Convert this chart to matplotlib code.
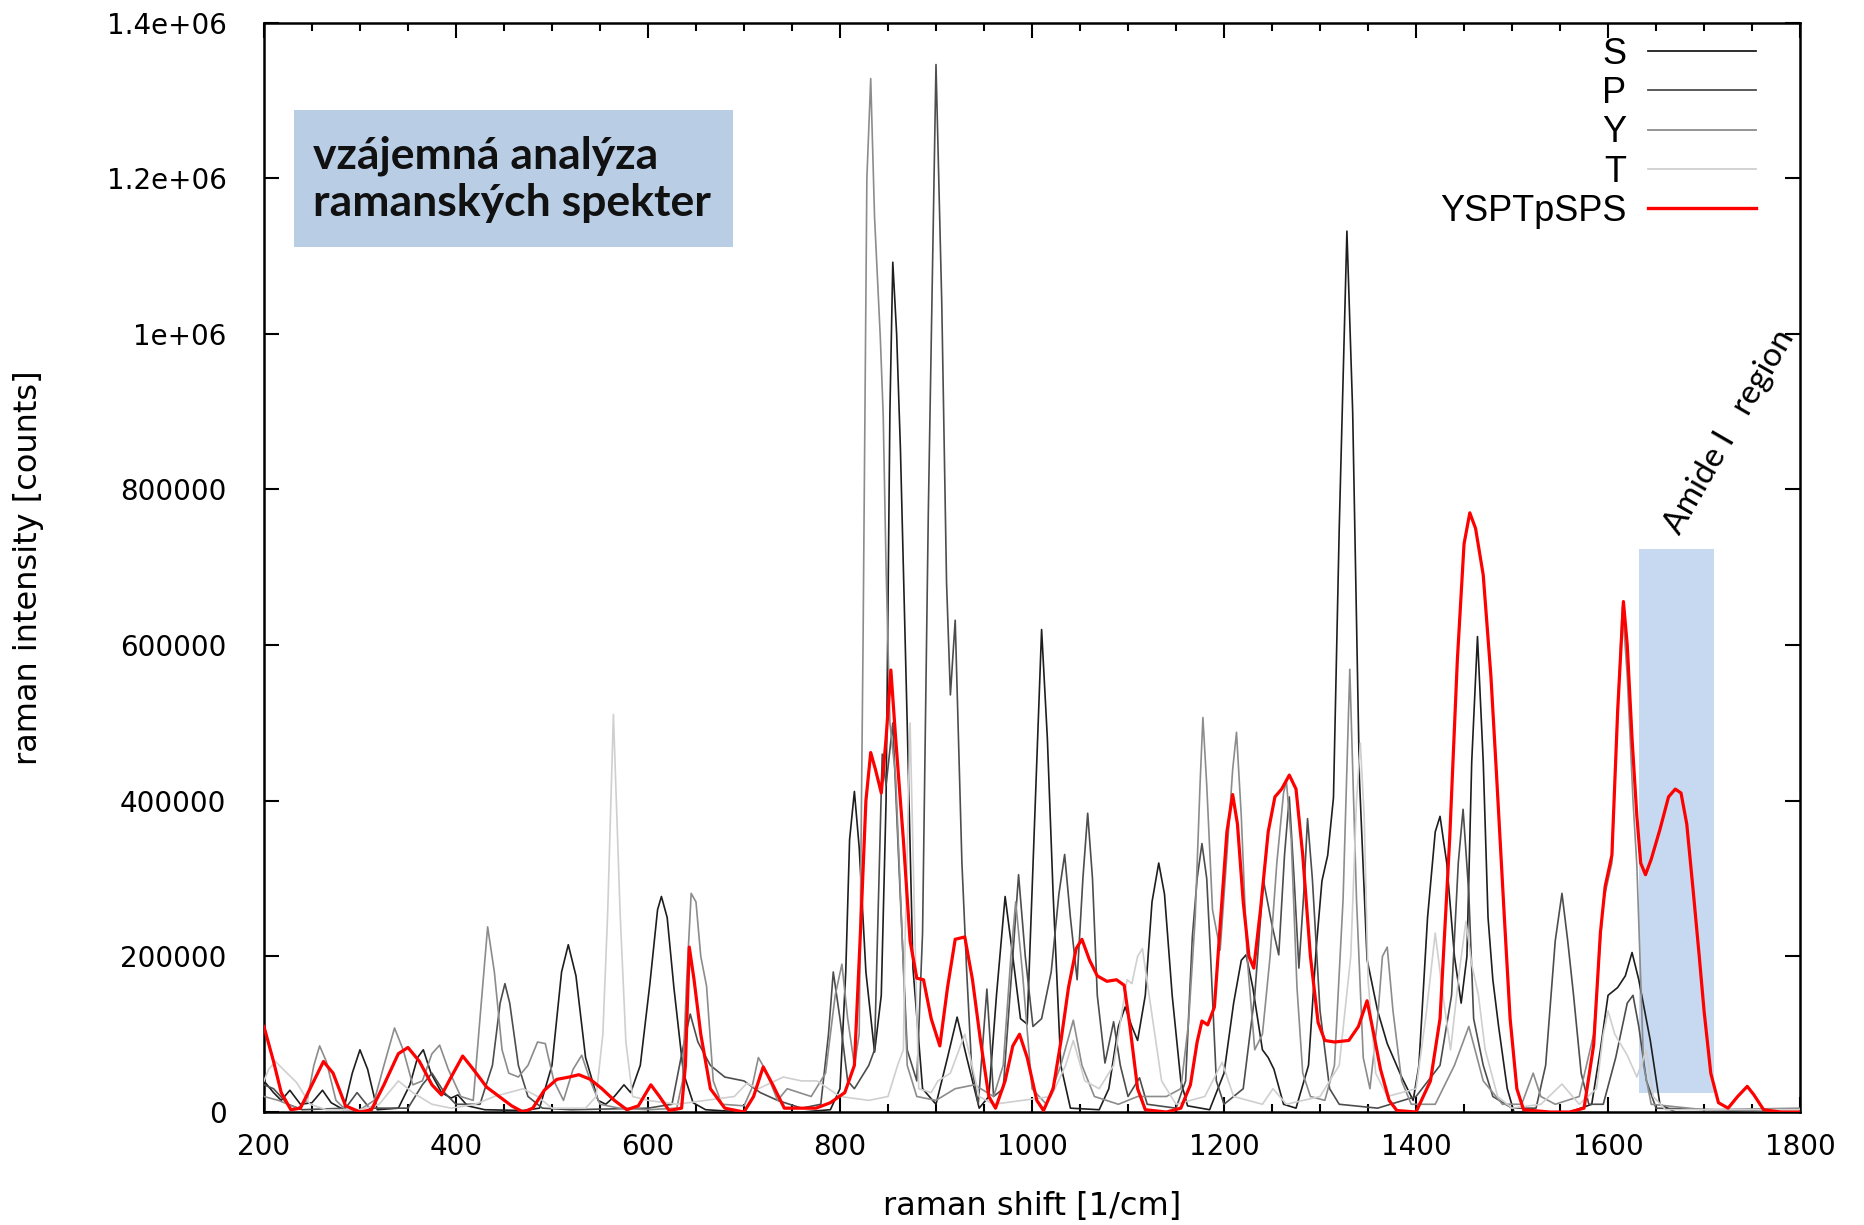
import matplotlib
matplotlib.use("Agg")
import matplotlib.pyplot as plt
from matplotlib.patches import Rectangle
from matplotlib.ticker import MultipleLocator

# spectra as (shift, counts) points
s_x = [200, 210, 218, 227, 238, 250, 261, 270, 283, 292, 300, 308, 318, 340, 352, 360, 366, 374, 385, 395, 402, 412,
       430, 470, 487, 500, 510, 517, 525, 535, 548, 556, 565, 575, 582, 592, 602, 610, 614, 620, 627, 637, 647, 660,
       700, 760, 790, 800, 806, 810, 815, 820, 827, 836, 843, 848, 852, 855, 859, 863, 870, 876, 886, 900, 912, 922,
       932, 945, 955, 963, 972, 980, 988, 995, 1002, 1010, 1016, 1022, 1030, 1040, 1070, 1080, 1090, 1097, 1104,
       1110, 1118, 1125, 1132, 1138, 1146, 1155, 1162, 1185, 1200, 1210, 1218, 1223, 1230, 1240, 1246, 1252, 1262,
       1275, 1288, 1296, 1302, 1308, 1314, 1320, 1328, 1334, 1341, 1349, 1360, 1370, 1385, 1397, 1403, 1412, 1420,
       1425, 1432, 1440, 1447, 1453, 1458, 1464, 1470, 1475, 1480, 1486, 1495, 1502, 1560, 1583, 1592, 1600, 1610,
       1618, 1625, 1632, 1644, 1654, 1670, 1800]
s_y = [40000, 25000, 15000, 28000, 10000, 12000, 28000, 12000, 3000, 50000, 80000, 55000, 3000, 5000, 35000, 70000,
       80000, 50000, 25000, 18000, 22000, 8000, 3000, 2000, 5000, 60000, 180000, 215000, 175000, 70000, 15000, 10000,
       20000, 35000, 25000, 60000, 165000, 260000, 277000, 250000, 160000, 50000, 12000, 3000, 0, 0, 3000, 30000,
       180000, 350000, 412000, 340000, 180000, 77000, 150000, 400000, 900000, 1092000, 1000000, 850000, 500000,
       185000, 30000, 10000, 70000, 122000, 70000, 5000, 20000, 150000, 277000, 200000, 120000, 113000, 350000,
       620000, 480000, 280000, 60000, 5000, 3000, 30000, 110000, 135000, 110000, 92000, 150000, 270000, 320000,
       280000, 150000, 40000, 8000, 3000, 50000, 140000, 195000, 202000, 160000, 80000, 70000, 55000, 10000, 5000,
       60000, 210000, 297000, 330000, 404000, 750000, 1132000, 900000, 430000, 196000, 130000, 88000, 45000, 15000,
       60000, 250000, 360000, 380000, 320000, 200000, 140000, 200000, 450000, 611000, 450000, 250000, 170000,
       110000, 30000, 0, 0, 10000, 80000, 150000, 160000, 175000, 205000, 170000, 92000, 10000, 0, 0]

p_x = [200, 210, 225, 240, 285, 297, 310, 350, 365, 375, 388, 400, 425, 438, 446, 451, 456, 465, 475, 490, 520, 600,
       625, 636, 644, 652, 665, 680, 700, 717, 735, 760, 780, 788, 793, 800, 808, 815, 830, 836, 844, 848, 855, 862,
       870, 880, 886, 892, 900, 906, 911, 915, 920, 927, 932, 937, 944, 953, 960, 970, 980, 986, 993, 1001, 1010,
       1020, 1028, 1034, 1040, 1047, 1053, 1058, 1063, 1068, 1076, 1085, 1092, 1100, 1112, 1120, 1150, 1160, 1167,
       1172, 1177, 1182, 1186, 1192, 1200, 1220, 1232, 1241, 1250, 1257, 1263, 1268, 1273, 1278, 1283, 1287, 1292,
       1300, 1310, 1320, 1360, 1400, 1425, 1437, 1444, 1449, 1455, 1460, 1470, 1480, 1500, 1525, 1535, 1545, 1552,
       1558, 1564, 1572, 1580, 1595, 1608, 1620, 1626, 1632, 1640, 1650, 1800]
p_y = [35000, 30000, 10000, 3000, 5000, 25000, 5000, 5000, 35000, 50000, 25000, 10000, 10000, 60000, 140000, 165000,
       140000, 60000, 20000, 5000, 3000, 5000, 10000, 80000, 126000, 90000, 60000, 45000, 40000, 25000, 15000, 5000,
       10000, 100000, 180000, 120000, 40000, 30000, 60000, 80000, 460000, 420000, 500000, 300000, 80000, 40000,
       230000, 770000, 1346000, 1040000, 680000, 536000, 632000, 320000, 180000, 60000, 10000, 158000, 20000, 30000,
       200000, 305000, 200000, 110000, 120000, 180000, 280000, 331000, 250000, 170000, 300000, 384000, 300000,
       150000, 63000, 116000, 60000, 20000, 44000, 10000, 5000, 40000, 225000, 300000, 345000, 300000, 200000, 40000,
       10000, 30000, 150000, 298000, 240000, 202000, 330000, 405000, 300000, 185000, 280000, 377000, 300000, 130000,
       30000, 10000, 5000, 20000, 60000, 150000, 320000, 389000, 280000, 120000, 60000, 20000, 5000, 5000, 60000,
       220000, 281000, 220000, 151000, 50000, 10000, 10000, 70000, 140000, 150000, 110000, 40000, 5000, 0]

y_x = [200, 215, 235, 245, 252, 258, 265, 275, 285, 300, 315, 325, 336, 345, 355, 365, 375, 383, 392, 405, 418, 425,
       433, 440, 448, 455, 465, 475, 485, 493, 502, 512, 522, 531, 540, 550, 570, 600, 630, 636, 640, 645, 650, 655,
       661, 668, 677, 700, 708, 715, 722, 735, 745, 770, 785, 795, 802, 808, 815, 820, 824, 828, 832, 836, 842, 845,
       848, 852, 858, 864, 870, 880, 900, 920, 940, 960, 970, 978, 983, 990, 1000, 1015, 1030, 1043, 1052, 1065,
       1090, 1110, 1140, 1155, 1163, 1170, 1175, 1178, 1182, 1188, 1196, 1203, 1209, 1213, 1218, 1224, 1232, 1240,
       1248, 1255, 1262, 1265, 1270, 1276, 1282, 1290, 1305, 1315, 1324, 1331, 1338, 1345, 1352, 1360, 1365, 1370,
       1376, 1385, 1395, 1420, 1440, 1455, 1470, 1490, 1510, 1522, 1530, 1545, 1570, 1585, 1595, 1604, 1610, 1615,
       1620, 1626, 1630, 1637, 1645, 1700, 1800]
y_y = [20000, 15000, 5000, 15000, 60000, 85000, 65000, 15000, 3000, 3000, 15000, 60000, 108000, 80000, 35000, 40000,
       75000, 86000, 55000, 20000, 15000, 120000, 238000, 180000, 80000, 50000, 45000, 60000, 90000, 88000, 40000,
       15000, 55000, 73000, 40000, 10000, 5000, 3000, 5000, 40000, 162000, 281000, 270000, 200000, 162000, 40000,
       10000, 8000, 30000, 70000, 55000, 15000, 30000, 20000, 50000, 150000, 190000, 120000, 60000, 100000, 600000,
       1200000, 1328000, 1150000, 995000, 896000, 700000, 500000, 430000, 250000, 60000, 20000, 15000, 30000, 35000,
       20000, 60000, 200000, 270000, 180000, 30000, 10000, 60000, 118000, 60000, 20000, 10000, 20000, 20000, 30000,
       114000, 250000, 420000, 507000, 420000, 260000, 208000, 330000, 440000, 488000, 380000, 200000, 80000,
       100000, 200000, 320000, 410000, 425000, 350000, 160000, 50000, 20000, 15000, 60000, 273000, 569000, 273000,
       70000, 30000, 120000, 200000, 212000, 130000, 40000, 10000, 10000, 60000, 110000, 40000, 10000, 10000, 50000,
       20000, 10000, 20000, 100000, 270000, 320000, 520000, 650000, 560000, 400000, 317000, 60000, 10000, 3000, 5000]

t_x = [200, 205, 212, 220, 234, 248, 265, 300, 320, 340, 355, 375, 395, 420, 440, 470, 485, 500, 535, 546, 553, 558,
       564, 571, 577, 584, 600, 630, 660, 690, 703, 715, 741, 760, 776, 800, 830, 850, 860, 866, 868, 873, 878, 882,
       895, 902, 915, 930, 945, 960, 990, 1020, 1035, 1043, 1055, 1070, 1085, 1099, 1104, 1110, 1115, 1122, 1135,
       1150, 1180, 1198, 1210, 1240, 1251, 1265, 1300, 1320, 1332, 1338, 1342, 1346, 1350, 1358, 1370, 1400, 1410,
       1420, 1428, 1436, 1445, 1452, 1458, 1465, 1472, 1485, 1500, 1530, 1552, 1570, 1588, 1595, 1600, 1607, 1620,
       1630, 1640, 1647, 1660, 1800]
t_y = [40000, 55000, 65000, 55000, 38000, 10000, 3000, 3000, 10000, 40000, 25000, 10000, 5000, 10000, 20000, 30000,
       20000, 5000, 5000, 20000, 100000, 255000, 511000, 255000, 90000, 20000, 15000, 10000, 15000, 20000, 37000,
       30000, 45000, 40000, 40000, 20000, 15000, 20000, 60000, 80000, 230000, 500000, 230000, 30000, 25000, 40000,
       50000, 100000, 20000, 10000, 15000, 20000, 60000, 92000, 40000, 30000, 60000, 170000, 165000, 200000, 210000,
       150000, 40000, 10000, 20000, 64000, 20000, 10000, 30000, 10000, 20000, 60000, 200000, 400000, 474000, 380000,
       170000, 50000, 20000, 30000, 120000, 230000, 150000, 80000, 180000, 245000, 190000, 150000, 80000, 20000,
       5000, 10000, 36000, 10000, 30000, 100000, 130000, 100000, 73000, 45000, 80000, 20000, 3000, 3000]

r_x = [200, 210, 218, 228, 238, 250, 262, 272, 285, 300, 312, 325, 340, 350, 362, 375, 385, 395, 407, 418, 432, 445,
       458, 470, 480, 492, 505, 518, 528, 540, 552, 565, 578, 590, 603, 612, 622, 635, 639, 643, 648, 655, 665, 680,
       700, 710, 720, 730, 742, 760, 775, 790, 805, 815, 822, 827, 832, 837, 843, 848, 853, 858, 866, 873, 880, 887,
       895, 904, 912, 920, 930, 938, 946, 955, 962, 972, 980, 987, 995, 1005, 1012, 1022, 1030, 1038, 1046, 1052,
       1060, 1068, 1078, 1088, 1096, 1102, 1110, 1118, 1140, 1155, 1165, 1172, 1177, 1183, 1190, 1196, 1203, 1209,
       1214, 1220, 1226, 1231, 1238, 1246, 1253, 1260, 1268, 1275, 1282, 1290, 1298, 1305, 1315, 1330, 1340, 1349,
       1356, 1363, 1372, 1380, 1400, 1415, 1425, 1435, 1443, 1450, 1456, 1462, 1470, 1478, 1484, 1492, 1498, 1505,
       1512, 1540, 1560, 1575, 1585, 1592, 1597, 1604, 1610, 1616, 1620, 1625, 1630, 1634, 1639, 1645, 1654, 1663,
       1670, 1676, 1682, 1689, 1695, 1700, 1707, 1715, 1725, 1735, 1745, 1752, 1762, 1780, 1800]
r_y = [110000, 65000, 25000, 3000, 5000, 35000, 65000, 50000, 8000, 0, 3000, 35000, 75000, 83000, 65000, 35000,
       22000, 45000, 72000, 55000, 32000, 20000, 8000, 0, 5000, 28000, 42000, 45000, 48000, 42000, 30000, 15000,
       3000, 8000, 35000, 20000, 2000, 5000, 60000, 212000, 170000, 100000, 30000, 5000, 0, 20000, 58000, 35000,
       5000, 5000, 5000, 12000, 25000, 60000, 250000, 400000, 462000, 440000, 410000, 480000, 568000, 480000,
       350000, 220000, 172000, 170000, 120000, 85000, 160000, 222000, 225000, 170000, 95000, 20000, 5000, 40000,
       85000, 100000, 70000, 15000, 2000, 30000, 90000, 160000, 210000, 222000, 195000, 175000, 168000, 170000,
       163000, 110000, 30000, 3000, 0, 5000, 35000, 90000, 117000, 112000, 135000, 240000, 360000, 408000, 370000,
       270000, 200000, 185000, 260000, 360000, 405000, 415000, 433000, 415000, 330000, 200000, 115000, 92000, 90000,
       92000, 110000, 143000, 100000, 55000, 15000, 2000, 0, 40000, 120000, 350000, 580000, 730000, 770000, 750000,
       690000, 560000, 430000, 250000, 120000, 30000, 3000, 0, 0, 5000, 86000, 230000, 290000, 330000, 515000,
       656000, 600000, 480000, 380000, 320000, 305000, 325000, 363000, 405000, 415000, 410000, 370000, 280000,
       200000, 130000, 50000, 12000, 5000, 20000, 33000, 22000, 3000, 0, 0]

series = [
    ("S", s_x, s_y, "#1e1e1e", 1.2),
    ("P", p_x, p_y, "#4d4d4d", 1.2),
    ("Y", y_x, y_y, "#8c8c8c", 1.2),
    ("T", t_x, t_y, "#cfcfcf", 1.2),
    ("YSPTpSPS", r_x, r_y, "#ff0000", 2.3),
]

fig = plt.figure(figsize=(18.64, 12.25), dpi=100)
ax = fig.add_axes([0.1416, 0.0922, 0.8241, 0.8894])

for name, xs, ys, col, lw in series:
    ax.plot(xs, ys, color=col, lw=lw, label=name, zorder=3)

# amide I band
ax.add_patch(Rectangle((1632, 24000), 78, 699000, facecolor="#c6d9f0",
                       edgecolor="none", zorder=2))
ax.text(1680, 736000, "Amide I   region", rotation=60, rotation_mode="anchor",
        ha="left", va="bottom", fontsize=24, family=["Lato", "DejaVu Sans"])

# title box
ax.add_patch(Rectangle((231, 1111000), 458, 176000, facecolor="#b9cde5",
                       edgecolor="none", zorder=2))
ax.text(251, 1199000, "vzájemná analýza\nramanských spekter", fontsize=32,
        fontweight="bold", family=["Lato", "DejaVu Sans"], color="#111111",
        va="center", ha="left", linespacing=1.2, zorder=4)

ax.set_xlim(200, 1800)
ax.set_ylim(0, 1400000)
ax.xaxis.set_major_locator(MultipleLocator(200))
ax.xaxis.set_minor_locator(MultipleLocator(50))
ax.set_yticks([0, 200000, 400000, 600000, 800000, 1000000, 1200000, 1400000])
ax.set_yticklabels(["0", "200000", "400000", "600000", "800000", "1e+06", "1.2e+06", "1.4e+06"])
ax.tick_params(which="both", direction="in", top=True, right=True, width=1.5, labelsize=20)
ax.tick_params(axis="x", pad=15)
ax.tick_params(axis="y", pad=27)
ax.tick_params(which="major", length=11)
ax.tick_params(which="minor", length=6)
for sp in ax.spines.values():
    sp.set_linewidth(1.8)

ax.set_xlabel("raman shift [1/cm]", fontsize=23, family=["Liberation Sans Narrow", "DejaVu Sans"])
ax.set_ylabel("raman intensity [counts]", fontsize=23, family=["Liberation Sans Narrow", "DejaVu Sans"])
ax.xaxis.set_label_coords(0.5, -0.072)
ax.yaxis.set_label_coords(-0.1432, 0.5)

leg = ax.legend(loc="upper right", bbox_to_anchor=(0.9714, 0.987), frameon=False, markerfirst=False,
                handlelength=3.0, handletextpad=0.6, labelspacing=0.12, borderpad=0, borderaxespad=0,
                prop={"family": ["Liberation Sans", "DejaVu Sans"], "size": 26})
for line in leg.get_lines():
    line.set_linewidth(1.3 if line.get_color() != "#ff0000" else 2.4)

fig.savefig("out.png", dpi=100)
